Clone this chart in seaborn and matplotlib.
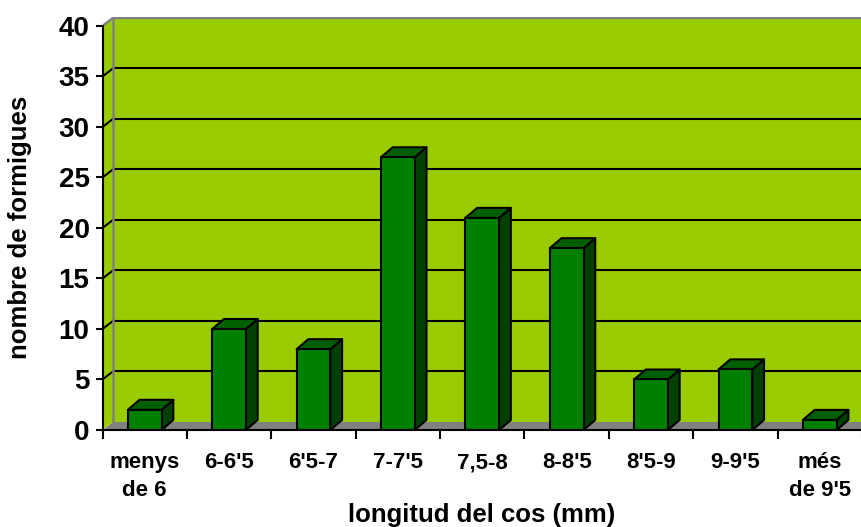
import matplotlib
matplotlib.use("Agg")
import matplotlib.pyplot as plt
from matplotlib.patches import Polygon
import seaborn as sns

categories = ["menys\nde 6", "6-6'5", "6'5-7", "7-7'5", "7,5-8", "8-8'5", "8'5-9", "9-9'5", "més\nde 9'5"]
values = [2, 10, 8, 27, 21, 18, 5, 6, 1]
yticks = [0, 5, 10, 15, 20, 25, 30, 35, 40]
xlabel = "longitud del cos (mm)"
ylabel = "nombre de formigues"

plt.rcParams['font.family'] = ['Liberation Sans', 'DejaVu Sans']
plt.rcParams['font.weight'] = 'bold'

W, H = 861, 527
fig = plt.figure(figsize=(W / 100, H / 100), dpi=100)
ax = fig.add_axes([102.5 / W, 97 / H, 759.5 / W, 412.6 / H])
ax.set_facecolor('white')

wall_green = '#99CC00'
floor_gray = '#808080'
front = '#008000'
side = '#004000'
top = '#006000'

ymax = 40
wdx, wdy = 0.124, 0.80   # wall depth
bdx, bdy = 0.139, 0.99   # bar depth
xl, xr = -0.5, 8.5
blw = 1.5

ax.set_xlim(xl, xr)
ax.set_ylim(0, ymax + 0.85)

# back wall
ax.add_patch(Polygon([(xl + wdx, wdy), (xr + 1, wdy), (xr + 1, ymax + wdy), (xl + wdx, ymax + wdy)],
                     closed=True, facecolor=wall_green, edgecolor='none', zorder=0))
# left wall
ax.add_patch(Polygon([(xl, 0), (xl + wdx, wdy), (xl + wdx, ymax + wdy), (xl, ymax)],
                     closed=True, facecolor=wall_green, edgecolor='none', zorder=0))
# floor
ax.add_patch(Polygon([(xl, 0), (xr + 1, 0), (xr + 1, wdy), (xl + wdx, wdy)],
                     closed=True, facecolor=floor_gray, edgecolor='none', zorder=0.5))

# gridlines
for k in yticks[1:-1]:
    ax.plot([xl + wdx, xr + 1], [k + wdy, k + wdy], color='black', lw=1.5, zorder=1, solid_capstyle='butt')
    ax.plot([xl, xl + wdx], [k, k + wdy], color='black', lw=1.5, zorder=1)
# gray edges
ax.plot([xl, xl + wdx, xr + 1], [ymax, ymax + wdy, ymax + wdy], color=floor_gray, lw=1.8, zorder=1.2)
ax.plot([xl + wdx, xl + wdx], [wdy, ymax + wdy], color=floor_gray, lw=1.8, zorder=1.2)

# bars
sns.barplot(x=list(range(len(values))), y=values, color=front, width=0.4, saturation=1,
            edgecolor='black', linewidth=blw, ax=ax, zorder=3, native_scale=True)

for p in list(ax.patches):
    if not hasattr(p, 'get_width'):
        continue
    x0 = p.get_x(); w = p.get_width(); h = p.get_height()
    p.set_facecolor(front)
    p.set_joinstyle('round')
    ax.add_patch(Polygon([(x0 + w, 0), (x0 + w + bdx, bdy), (x0 + w + bdx, h + bdy), (x0 + w, h)],
                         closed=True, facecolor=side, edgecolor='black', lw=blw, zorder=2.9, joinstyle='round'))
    ax.add_patch(Polygon([(x0, h), (x0 + bdx, h + bdy), (x0 + w + bdx, h + bdy), (x0 + w, h)],
                         closed=True, facecolor=top, edgecolor='black', lw=blw, zorder=2.9, joinstyle='round'))

ax.set_xlim(xl, xr)
ax.set_ylim(0, ymax + 0.85)

# spines
for s in ['top', 'right']:
    ax.spines[s].set_visible(False)
ax.spines['left'].set_bounds(0, ymax)
ax.spines['left'].set_linewidth(1.5)
ax.spines['bottom'].set_linewidth(1.5)
ax.spines['left'].set_zorder(4)
ax.spines['bottom'].set_zorder(4)

ax.set_yticks(yticks)
ax.set_yticklabels([str(v) for v in yticks], fontsize=20, fontweight='bold')
ax.tick_params(axis='y', direction='out', length=5, width=1.5, pad=4.3)

ax.set_xticks(range(len(categories)))
ax.set_xticklabels(categories, fontsize=16, fontweight='bold', linespacing=1.4)
ax.tick_params(axis='x', which='major', length=0, pad=16)
ax.set_xticks([i - 0.5 for i in range(len(categories) + 1)], minor=True)
ax.tick_params(axis='x', which='minor', direction='out', length=6.5, width=1.5)
ax.set_xlabel('')
ax.set_ylabel('')

fig.text(482 / W, (H - 521.7) / H, xlabel, ha='center', va='baseline', fontsize=18.5, fontweight='bold')
fig.text(20 / W, (H - 227) / H, ylabel, ha='center', va='center', rotation=90, fontsize=18.5, fontweight='bold')

fig.savefig('out.png', dpi=100)
